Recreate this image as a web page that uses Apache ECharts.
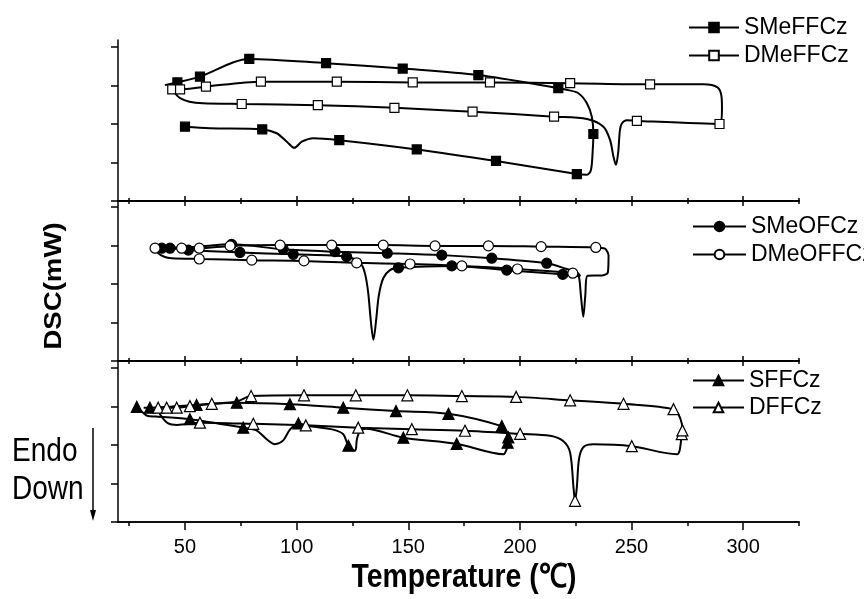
<!DOCTYPE html>
<html>
<head>
<meta charset="utf-8">
<script src="https://cdn.jsdelivr.net/npm/echarts@6/dist/echarts.min.js"></script>
<style>
  html, body { margin: 0; padding: 0; background: #fff; }
  #chart { width: 864px; height: 599px; }
</style>
</head>
<body>
<div id="chart"></div>
<script>
// Temperature axis (°C)
const xMin = 20, xMax = 325;
const majorTicks = [50, 100, 150, 200, 250, 300];
const minorTicks = [25, 75, 125, 175, 225, 275, 325];
const yTicks = [0, 1, 2, 3, 4];

// Each trace point: [temperature, heat flow (arbitrary units), 1 = draw marker]
// Panel 1: methyl-substituted FF series
const sMeFFCz = [
  [50.0,1.93,1],[61.2,1.89,0],[84.6,1.86,1],[91.1,1.76,0],[95.6,1.54,0],[99.0,1.38,0],
  [102.3,1.54,0],[107.5,1.63,0],[119.1,1.58,1],[153.8,1.34,1],[189.3,1.04,1],[225.5,0.70,1],
  [230.0,0.68,0],[231.8,0.80,0],[232.6,1.30,0],[232.9,1.74,1],[232.2,2.19,0],[230.0,2.54,0],
  [226.2,2.80,0],[221.7,2.88,0],[217.2,2.93,1],[181.4,3.27,1],[147.5,3.44,1],[113.2,3.58,1],
  [78.8,3.69,1],[56.7,3.23,1],[46.6,3.08,1],[41.0,3.01,0]
];
const dMeFFCz = [
  [44.3,2.90,1],[45.5,2.80,0],[47.8,2.67,0],[52.0,2.58,0],[58.0,2.54,0],[75.4,2.52,1],
  [109.5,2.49,1],[143.8,2.42,1],[178.8,2.32,1],[215.3,2.19,1],[230.0,2.13,0],[237.4,1.93,0],
  [240.4,1.58,0],[241.9,1.15,0],[243.0,0.94,0],[244.0,1.25,0],[244.8,1.84,0],[245.7,2.02,0],
  [247.9,2.10,0],[252.4,2.08,1],[289.4,2.00,1],[290.5,2.40,0],[290.3,2.71,0],[288.5,2.95,0],
  [282.2,3.03,0],[258.3,3.03,1],[222.5,3.06,1],[186.6,3.08,1],[152.0,3.08,1],[118.0,3.10,1],
  [84.0,3.10,1],[59.4,2.97,1],[47.8,2.90,1],[44.3,2.90,0]
];

// Panel 2: methoxy-substituted series
const sMeOFCz = [
  [38.0,2.93,0],[43.3,2.93,1],[51.5,2.88,1],[74.6,2.82,1],[98.5,2.77,1],[122.4,2.71,1],
  [128.4,2.55,0],[130.5,2.30,0],[132.0,1.80,0],[133.3,1.00,0],[134.4,0.55,0],[135.5,1.00,0],
  [136.8,1.70,0],[138.8,2.15,0],[141.8,2.36,0],[145.6,2.42,1],[169.5,2.47,1],[194.1,2.36,1],
  [219.2,2.25,1],[227.0,2.21,0],[225.5,2.30,0],[221.0,2.39,0],[212.0,2.54,1],[187.4,2.67,1],
  [165.0,2.75,1],[140.6,2.80,1],[117.2,2.84,1],[94.0,2.90,1],[70.9,3.03,1],[55.0,2.97,0],
  [39.6,2.93,1]
];
const dMeOFFCz = [
  [36.6,2.93,1],[38.0,2.80,0],[41.0,2.70,0],[44.0,2.67,0],[56.4,2.65,1],[79.9,2.62,1],
  [103.3,2.60,1],[126.9,2.55,1],[150.8,2.52,1],[174.0,2.47,1],[198.9,2.39,1],[223.7,2.28,1],
  [226.2,2.23,0],[227.3,1.71,0],[228.4,1.15,0],[229.3,1.71,0],[230.2,2.21,0],[237.4,2.23,0],
  [239.4,2.30,0],[239.7,2.75,0],[238.5,2.90,0],[237.4,2.93,0],[234.0,2.95,1],[209.5,2.97,1],
  [185.9,2.99,1],[162.0,2.99,1],[138.8,3.01,1],[115.7,3.01,1],[92.6,3.01,1],[70.2,2.99,1],
  [56.4,2.93,1],[48.5,2.93,1],[36.6,2.93,0]
];

// Panel 3: unsubstituted series
const sFFCz = [
  [28.4,2.99,1],[31.0,2.85,0],[33.0,2.76,0],[37.0,2.74,0],[52.2,2.67,1],[76.1,2.45,1],
  [82.0,2.38,0],[86.6,2.15,0],[90.3,2.02,0],[94.0,2.12,0],[97.0,2.40,0],[100.8,2.56,1],
  [105.0,2.50,0],[116.4,2.40,0],[120.9,2.28,0],[123.2,1.98,1],[126.2,1.85,0],[127.0,2.15,0],
  [128.4,2.36,0],[131.0,2.42,0],[147.8,2.19,1],[171.7,2.03,1],[192.6,1.76,0],[194.1,1.90,0],
  [194.5,2.06,1],[194.8,2.20,1],[193.5,2.36,0],[191.9,2.49,1],[168.0,2.81,1],[144.5,2.88,1],
  [120.9,2.97,1],[97.0,3.06,1],[73.2,3.10,1],[55.2,3.04,1],[44.0,3.00,0],[34.3,2.97,1],
  [31.5,2.97,0]
];
const dFFCz = [
  [38.0,2.97,1],[38.8,2.80,0],[42.5,2.56,0],[46.5,2.52,0],[56.7,2.58,1],[80.6,2.55,1],
  [104.1,2.51,1],[127.6,2.45,1],[151.6,2.41,1],[175.4,2.37,1],[200.1,2.29,1],[213.5,2.24,0],
  [219.5,2.10,0],[222.5,1.80,0],[224.0,0.90,0],[224.7,0.55,1],[225.5,0.90,0],[226.5,1.65,0],
  [228.5,1.95,0],[232.9,2.02,0],[250.1,1.97,1],[270.3,1.76,0],[271.5,1.85,0],[272.5,2.28,1],
  [272.8,2.38,1],[271.8,2.70,0],[268.8,2.93,1],[246.4,3.07,1],[222.5,3.16,1],[198.3,3.25,1],
  [174.0,3.27,1],[149.6,3.29,1],[126.5,3.29,1],[103.3,3.29,1],[79.6,3.27,1],[73.2,3.13,0],
  [62.0,3.07,1],[52.2,3.01,1],[46.3,2.97,1],[41.8,2.97,1],[38.0,2.97,0]
];

const SANS = '"Liberation Sans",Arial,sans-serif';
const UNIT_PX = 38.5;
const panels = [
  { top: 40, height: 161 },
  { top: 201, height: 160 },
  { top: 361, height: 161 }
];

const grid = panels.map(p => ({ left: 118, right: 65, top: p.top, height: p.height }));
const xAxis = [];
const yAxis = [];
const xIndexOf = [];

function addX(gi, pos, ticks, len, inside, withLabels) {
  xAxis.push({
    type: 'value', gridIndex: gi, position: pos, offset: 0, min: xMin, max: xMax,
    axisLine: { show: true, onZero: false, lineStyle: { color: '#000', width: 1.5 } },
    axisTick: { show: true, inside: inside, length: len, customValues: ticks,
                lineStyle: { color: '#000', width: 1.5 } },
    axisLabel: withLabels
      ? { show: true, customValues: majorTicks, margin: 15, color: '#000',
          fontFamily: SANS, fontSize: 20 }
      : { show: false },
    splitLine: { show: false }
  });
  return xAxis.length - 1;
}

// Panel frames: inward ticks on the shared dividers, outward ticks + labels at the bottom
xIndexOf[0] = addX(0, 'bottom', majorTicks, 5, true, false);
addX(0, 'bottom', minorTicks, 3, true, false);
xIndexOf[1] = addX(1, 'bottom', majorTicks, 5, true, false);
addX(1, 'bottom', minorTicks, 3, true, false);
addX(1, 'top', majorTicks, 5, true, false);
addX(1, 'top', minorTicks, 3, true, false);
xIndexOf[2] = addX(2, 'bottom', majorTicks, 8, false, true);
addX(2, 'bottom', minorTicks, 4, false, false);
addX(2, 'top', majorTicks, 5, true, false);
addX(2, 'top', minorTicks, 3, true, false);

panels.forEach((p, gi) => {
  yAxis.push({
    type: 'value', gridIndex: gi, min: 0, max: p.height / UNIT_PX,
    axisLine: { show: true, onZero: false, lineStyle: { color: '#000', width: 1.5 } },
    axisTick: { show: true, inside: false, length: 7, customValues: yTicks,
                lineStyle: { color: '#000', width: 1.5 } },
    axisLabel: { show: false },
    splitLine: { show: false }
  });
});

function trace(name, pts, gi, sym, filled, size) {
  return {
    type: 'line', name: name, xAxisIndex: xIndexOf[gi], yAxisIndex: gi,
    data: pts.map(p => ({ value: [p[0], p[1]], symbol: p[2] ? sym : 'none' })),
    symbol: sym, symbolSize: size, showSymbol: true, showAllSymbol: true,
    smooth: 0.3, silent: true,
    lineStyle: { color: '#000', width: 2 },
    itemStyle: { color: filled ? '#000' : '#fff', borderColor: '#000', borderWidth: 1.2 },
    emphasis: { disabled: true }
  };
}

const series = [
  trace('SMeFFCz', sMeFFCz, 0, 'rect', true, 9),
  trace('DMeFFCz', dMeFFCz, 0, 'rect', false, 9),
  trace('SMeOFCz', sMeOFCz, 1, 'circle', true, 10),
  trace('DMeOFFCz', dMeOFFCz, 1, 'circle', false, 10),
  trace('SFFCz', sFFCz, 2, 'triangle', true, 11),
  trace('DFFCz', dFFCz, 2, 'triangle', false, 11)
];

function legendBlock(names, left, top, width, gap) {
  return {
    data: names, orient: 'vertical', left: left, top: top,
    itemWidth: width, itemHeight: 12, itemGap: gap, selectedMode: false,
    textStyle: { color: '#000', fontFamily: SANS, fontSize: 23 }
  };
}

const option = {
  animation: false,
  backgroundColor: '#fff',
  grid: grid,
  xAxis: xAxis,
  yAxis: yAxis,
  legend: [
    legendBlock(['SMeFFCz', 'DMeFFCz'], 683, 11, 50, 5),
    legendBlock(['SMeOFCz', 'DMeOFFCz'], 687, 210, 53, 5),
    legendBlock(['SFFCz', 'DFFCz'], 687, 364, 51, 4)
  ],
  graphic: [
    { type: 'text', x: 54, y: 286, rotation: Math.PI / 2, scaleX: 1.15,
      style: { text: 'DSC(mW)', x: 0, y: 0, align: 'center', verticalAlign: 'middle',
               font: 'bold 24px ' + SANS, fill: '#000' } },
    { type: 'text', x: 464, y: 578, scaleX: 0.86,
      style: { text: 'Temperature (℃)', x: 0, y: 0, align: 'center', verticalAlign: 'middle',
               font: 'bold 33px ' + SANS, fill: '#000' } },
    { type: 'text', x: 12, y: 452, scaleX: 0.85,
      style: { text: 'Endo', x: 0, y: 0, align: 'left', verticalAlign: 'middle',
               font: '33px ' + SANS, fill: '#000' } },
    { type: 'text', x: 12, y: 490, scaleX: 0.85,
      style: { text: 'Down', x: 0, y: 0, align: 'left', verticalAlign: 'middle',
               font: '33px ' + SANS, fill: '#000' } },
    { type: 'line', shape: { x1: 93, y1: 428, x2: 93, y2: 512 },
      style: { stroke: '#000', lineWidth: 1.5 } },
    { type: 'polygon', shape: { points: [[90, 510], [96, 510], [93, 521]] },
      style: { fill: '#000' } }
  ],
  series: series
};

const chart = echarts.init(document.getElementById('chart'));
chart.setOption(option);
</script>
</body>
</html>
